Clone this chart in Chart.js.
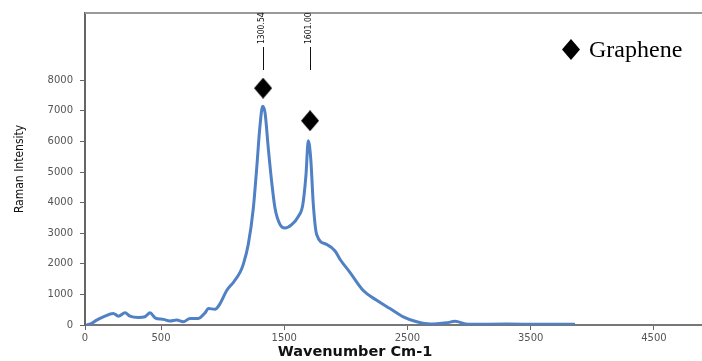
<!DOCTYPE html>
<html>
<head>
<meta charset="utf-8">
<script src="https://cdn.jsdelivr.net/npm/chart.js@4.4.1/dist/chart.umd.min.js"></script>
<style>
  body { margin: 0; background: #fff; }
  canvas { display: block; }
</style>
</head>
<body>
<canvas id="chart" width="702" height="361"></canvas>
<script>
// Espectro Raman
const wavenumber = [-103, -62, -22, 32, 113, 154, 208, 248, 316, 370, 411, 451, 519, 573, 627, 681, 735, 803, 857, 884,
    938, 979, 1033, 1087, 1141, 1168, 1208, 1249, 1276, 1303, 1325, 1344, 1371, 1398, 1425, 1466, 1506, 1560, 1614, 1650,
    1676, 1695, 1715, 1736, 1763, 1844, 1912, 1952, 2033, 2141, 2250, 2358, 2466, 2575, 2683, 2818, 2885, 2993, 3305, 3575, 3859];
const intensity = [0, 55, 161, 268, 377, 290, 397, 290, 248, 268, 397, 235, 184, 129, 161, 106, 216, 216, 397, 539,
    516, 700, 1129, 1397, 1720, 1990, 2636, 3816, 5107, 6507, 7152, 6936, 5752, 4678, 3816, 3281, 3171, 3281, 3549, 3926,
    4894, 6023, 5429, 3926, 2958, 2636, 2420, 2150, 1720, 1129, 807, 539, 268, 106, 32, 74, 119, 23, 32, 23, 23];

// Marcadores de los picos
const peakPositions = [1328, 1709];
const peakMarkers = [7742, 6678];
const peakLabels = ['1300.54', '1601.00'];

// Ticks de los ejes
const xTickValues = [-117, 500, 1500, 2500, 3500, 4500];
const xTickLabels = ['0', '500', '1500', '2500', '3500', '4500'];
const yTickValues = [0, 1000, 2000, 3000, 4000, 5000, 6000, 7000, 8000];

// diamante un poco mas alto que ancho
function diamond(w, h) {
    const c = document.createElement('canvas');
    c.width = w;
    c.height = h;
    const g = c.getContext('2d');
    g.fillStyle = '#000';
    g.beginPath();
    g.moveTo(w / 2, 0);
    g.lineTo(w, h / 2);
    g.lineTo(w / 2, h);
    g.lineTo(0, h / 2);
    g.closePath();
    g.fill();
    return c;
}
const marker = diamond(18, 21);

const extras = {
    id: 'extras',
    afterDraw(chart) {
        const ctx = chart.ctx;
        const area = chart.chartArea;
        const xs = chart.scales.x;
        ctx.save();
        // borde superior
        ctx.strokeStyle = '#9a9a9a';
        ctx.lineWidth = 2;
        ctx.beginPath();
        ctx.moveTo(area.left, area.top);
        ctx.lineTo(chart.width, area.top);
        ctx.stroke();

        // etiquetas de los picos
        ctx.strokeStyle = '#111';
        ctx.lineWidth = 1;
        ctx.fillStyle = '#111';
        ctx.font = '8.5px "Liberation Sans Narrow", "DejaVu Sans Condensed", sans-serif';
        peakPositions.forEach((p, i) => {
            const px = Math.round(xs.getPixelForValue(p)) + 0.5;
            ctx.beginPath();
            ctx.moveTo(px, 47);
            ctx.lineTo(px, 70);
            ctx.stroke();
            ctx.save();
            ctx.translate(px - 2, 44);
            ctx.rotate(-Math.PI / 2);
            ctx.textAlign = 'left';
            ctx.textBaseline = 'middle';
            ctx.fillText(peakLabels[i], 0, 0);
            ctx.restore();
        });

        // leyenda
        const ds = chart.data.datasets[1];
        ctx.drawImage(marker, 562, 39);
        ctx.fillStyle = '#000';
        ctx.font = '24px "Liberation Serif", "Times New Roman", serif';
        ctx.textAlign = 'left';
        ctx.textBaseline = 'alphabetic';
        ctx.fillText(ds.label, 589, 57);

        // titulo del eje x
        ctx.font = 'bold 14.5px "DejaVu Sans", sans-serif';
        ctx.textAlign = 'center';
        ctx.textBaseline = 'middle';
        ctx.fillStyle = '#111';
        ctx.fillText('Wavenumber Cm-1', 355, 352);
        ctx.restore();
    }
};

var ctx = document.getElementById('chart').getContext('2d');
var chart = new Chart(ctx, {
    type: 'scatter',
    data: {
        datasets: [{
            label: 'Raman',
            data: wavenumber.map((w, i) => ({ x: w, y: intensity[i] })),
            showLine: true,
            borderColor: '#4f81c4',
            borderWidth: 3,
            pointRadius: 0,
            tension: 0.3,
            cubicInterpolationMode: 'monotone'
        }, {
            label: 'Graphene',
            data: peakPositions.map((p, i) => ({ x: p, y: peakMarkers[i] })),
            pointStyle: marker,
            pointRadius: 10,
            backgroundColor: '#000',
            borderColor: '#000'
        }]
    },
    options: {
        responsive: false,
        animation: false,
        devicePixelRatio: 1,
        layout: { autoPadding: false, padding: { top: 9, right: 0, left: 0, bottom: 0 } },
        plugins: {
            legend: { display: false },
            tooltip: { enabled: false }
        },
        scales: {
            x: {
                type: 'linear',
                min: -117,
                max: 4890,
                afterBuildTicks: s => { s.ticks = xTickValues.map(v => ({ value: v })); },
                afterFit: s => { s.height = 36; s.paddingLeft = 0; s.paddingRight = 0; },
                grid: { display: true, drawOnChartArea: false, tickLength: 5, tickColor: '#666' },
                border: { color: '#777', width: 2 },
                ticks: {
                    padding: 2,
                    color: '#555',
                    font: { family: 'DejaVu Sans', size: 10 },
                    maxRotation: 0,
                    callback: (v, i) => xTickLabels[i]
                }
            },
            y: {
                min: 0,
                max: 10200,
                afterBuildTicks: s => { s.ticks = yTickValues.map(v => ({ value: v })); },
                afterFit: s => { s.width = 85; },
                grid: { display: true, drawOnChartArea: false, tickLength: 5, tickColor: '#666' },
                border: { color: '#666', width: 2 },
                ticks: {
                    padding: 7,
                    color: '#555',
                    font: { family: 'DejaVu Sans', size: 10 },
                    callback: v => String(v)
                },
                title: {
                    display: true,
                    text: 'Raman Intensity',
                    color: '#111',
                    padding: { top: 13, bottom: 0 },
                    font: { family: '"Liberation Sans Narrow", "DejaVu Sans Condensed", sans-serif', size: 12 }
                }
            }
        }
    },
    plugins: [extras]
});
</script>
</body>
</html>
